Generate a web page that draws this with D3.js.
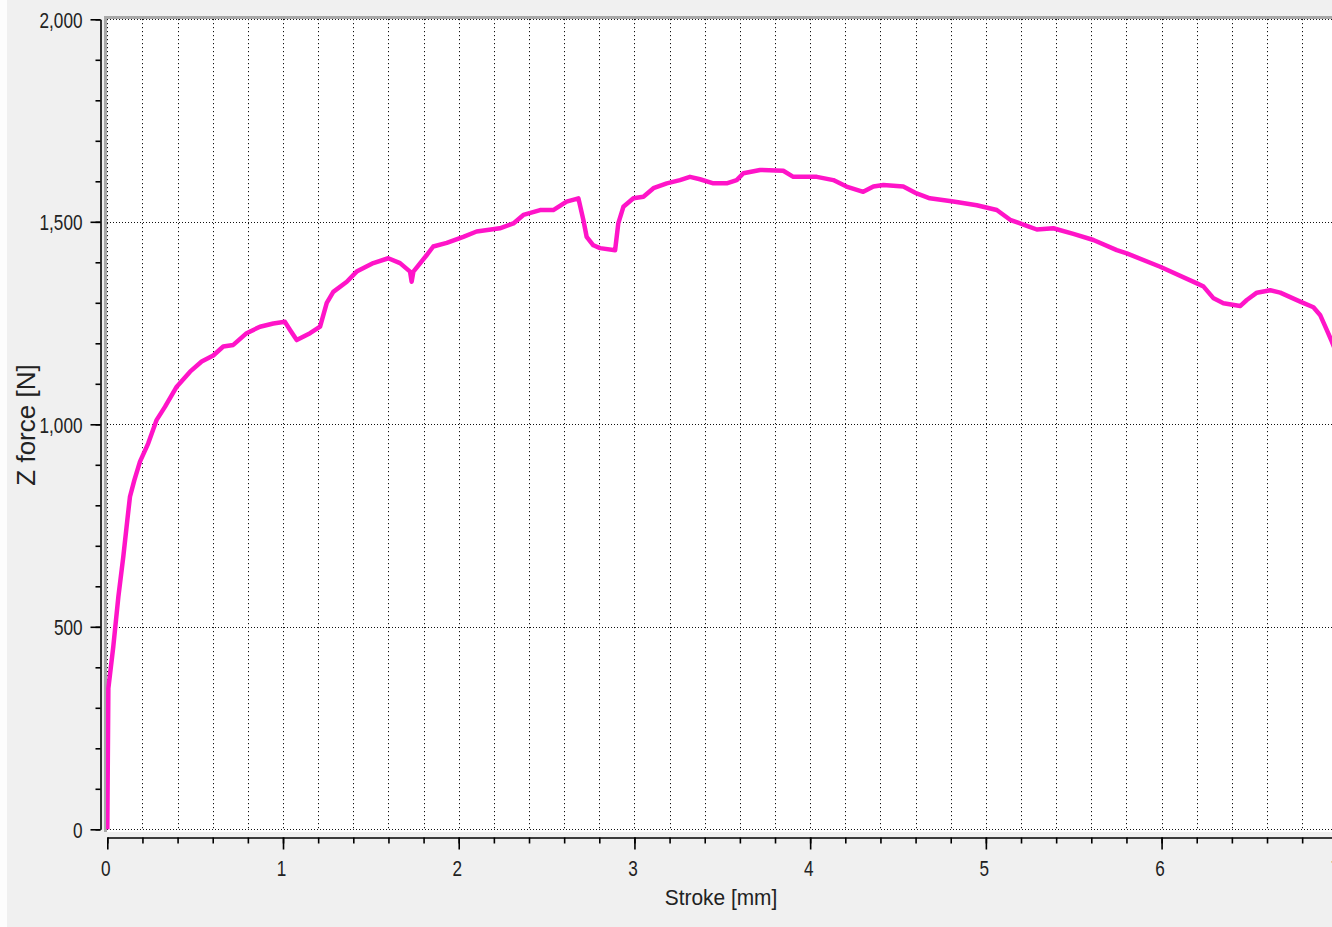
<!DOCTYPE html>
<html>
<head>
<meta charset="utf-8">
<script src="https://cdn.jsdelivr.net/npm/d3@7"></script>
<style>
  html, body { margin: 0; padding: 0; background: #f0f0f0; }
  svg { display: block; }
  text { font-family: "Liberation Sans", Arial, sans-serif; fill: #222; }
</style>
</head>
<body>
<svg id="chart" width="1332" height="927"></svg>
<script>
// Stroke (mm) vs. Z force (N) recorded during the press test
const strokeMm = [
  0, 0.003, 0.006, 0.034, 0.063, 0.091, 0.114, 0.129, 0.154, 0.186,
  0.233, 0.281, 0.328, 0.395, 0.471, 0.537, 0.603, 0.660, 0.717, 0.793,
  0.869, 0.945, 1.011, 1.040, 1.078, 1.154, 1.211, 1.249, 1.286, 1.363,
  1.419, 1.514, 1.599, 1.666, 1.723, 1.732, 1.742, 1.818, 1.855, 1.932,
  2.026, 2.102, 2.234, 2.311, 2.368, 2.463, 2.538, 2.614, 2.681, 2.709,
  2.728, 2.766, 2.804, 2.890, 2.908, 2.937, 2.994, 3.051, 3.108, 3.184,
  3.259, 3.316, 3.373, 3.449, 3.525, 3.582, 3.620, 3.715, 3.847, 3.904,
  4.038, 4.132, 4.207, 4.302, 4.360, 4.417, 4.530, 4.606, 4.681, 4.815,
  4.948, 5.062, 5.138, 5.233, 5.290, 5.384, 5.498, 5.612, 5.745, 5.802,
  5.992, 6.201, 6.239, 6.296, 6.352, 6.447, 6.485, 6.542, 6.618, 6.675,
  6.789, 6.864, 6.902, 6.940, 6.969, 6.993
];
const zForce = [
  0, 178, 348, 451, 574, 673, 764, 821, 862, 908,
  953, 1011, 1043, 1093, 1130, 1155, 1170, 1192, 1196, 1225,
  1241, 1249, 1253, 1233, 1208, 1225, 1241, 1300, 1327, 1352,
  1377, 1398, 1410, 1398, 1377, 1352, 1377, 1418, 1439, 1448,
  1463, 1476, 1484, 1496, 1517, 1529, 1529, 1550, 1558, 1505,
  1463, 1442, 1435, 1430, 1496, 1537, 1558, 1562, 1583, 1595,
  1603, 1611, 1605, 1595, 1595, 1603, 1620, 1628, 1626, 1611,
  1611, 1603, 1587, 1574, 1587, 1591, 1587, 1570, 1558, 1550,
  1541, 1529, 1505, 1490, 1481, 1484, 1470, 1455, 1430, 1422,
  1389, 1348, 1340, 1311, 1299, 1292, 1307, 1325, 1331, 1325,
  1303, 1289, 1270, 1233, 1204, 1178
];

// Axis ticks
const xMajorTicks = [0, 1, 2, 3, 4, 5, 6, 7];
const xMinorTicks = d3.range(0, 36).map(i => +(i * 0.2).toFixed(1));
const yMajorTicks = [0, 500, 1000, 1500, 2000];
const yMinorTicks = d3.range(0, 21).map(i => i * 100);

const xLabel = "Stroke [mm]";
const yLabel = "Z force [N]";

const svg = d3.select("#chart");
const W = 1332, H = 927;

const x = d3.scaleLinear().domain([0, 7]).range([107.3, 1337.3]);
const y = d3.scaleLinear().domain([0, 2000]).range([829.3, 19.3]);

// narrow the digits horizontally (condensed look of the tick labels)
function condense(sel, sx) {
  sel.each(function () {
    const t = d3.select(this);
    const tx = +t.attr("x") || 0, ty = +t.attr("y") || 0;
    t.attr("x", 0).attr("y", 0)
      .attr("transform", `translate(${tx},${ty}) scale(${sx},1)`);
  });
}

// thin light strip on the left edge of the window
svg.append("rect").attr("x", 0).attr("y", 0).attr("width", 7).attr("height", H).attr("fill", "#fdfdfd");

// plot background
svg.append("rect")
  .attr("x", 106).attr("y", 18)
  .attr("width", W - 106).attr("height", 832 - 18)
  .attr("fill", "#ffffff");

// frame of the plot (grey top and left edges)
svg.append("line").attr("x1", 104).attr("x2", W).attr("y1", 17.5).attr("y2", 17.5)
  .attr("stroke", "#a8a8a8").attr("stroke-width", 3);
svg.append("line").attr("x1", 105.5).attr("x2", 105.5).attr("y1", 16).attr("y2", 832)
  .attr("stroke", "#a8a8a8").attr("stroke-width", 3);

// grid
const grid = svg.append("g").attr("fill", "none").attr("stroke", "#111").attr("stroke-width", 1);
grid.selectAll("line.v").data(xMinorTicks).enter().append("line")
  .attr("class", "v")
  .attr("x1", d => Math.round(x(d)) + 0.5).attr("x2", d => Math.round(x(d)) + 0.5)
  .attr("y1", 19).attr("y2", 830)
  .attr("stroke-dasharray", "1.2,2.8");
grid.selectAll("line.h").data(yMajorTicks).enter().append("line")
  .attr("class", "h")
  .attr("x1", 107).attr("x2", W)
  .attr("y1", d => Math.round(y(d)) + 0.5).attr("y2", d => Math.round(y(d)) + 0.5)
  .attr("stroke-dasharray", "1,2");

// data line
svg.append("defs").append("clipPath").attr("id", "plotClip")
  .append("rect").attr("x", 106).attr("y", 17).attr("width", W - 106).attr("height", 816);

const line = d3.line().x((d, i) => x(strokeMm[i])).y(d => y(d));
svg.append("path")
  .datum(zForce)
  .attr("clip-path", "url(#plotClip)")
  .attr("fill", "none")
  .attr("stroke", "#ff14c8")
  .attr("stroke-width", 4.5)
  .attr("stroke-linejoin", "round")
  .attr("d", line);

// y axis
const yAxisMinor = d3.axisLeft(y).tickValues(yMinorTicks).tickSize(5).tickSizeOuter(0).tickFormat("");
const yAxisMajor = d3.axisLeft(y).tickValues(yMajorTicks).tickSize(10).tickSizeOuter(0)
  .tickPadding(8).tickFormat(d3.format(","));
const gy1 = svg.append("g").attr("transform", "translate(100.5,0)").call(yAxisMinor);
const gy2 = svg.append("g").attr("transform", "translate(100.5,0)").call(yAxisMajor);
[gy1, gy2].forEach(g => {
  g.select(".domain").attr("stroke", "#000").attr("stroke-width", 1.6);
  g.selectAll(".tick line").attr("stroke", "#000").attr("stroke-width", 1.6);
});
gy2.select(".domain").remove();
gy2.selectAll(".tick text").attr("font-size", 22).attr("font-family", "Liberation Sans, Arial, sans-serif")
  .attr("fill", "#222").attr("dy", "0.35em").call(condense, 0.78);

// x axis
const xAxisMinor = d3.axisBottom(x).tickValues(xMinorTicks).tickSize(6).tickSizeOuter(0).tickFormat("");
const xAxisMajor = d3.axisBottom(x).tickValues(xMajorTicks).tickSize(12).tickSizeOuter(0)
  .tickPadding(0).tickFormat(d3.format("d"));
const gx1 = svg.append("g").attr("transform", "translate(0,837.5)").call(xAxisMinor);
const gx2 = svg.append("g").attr("transform", "translate(0,837.5)").call(xAxisMajor);
[gx1, gx2].forEach(g => {
  g.select(".domain").attr("stroke", "#000").attr("stroke-width", 1.6);
  g.selectAll(".tick line").attr("stroke", "#000").attr("stroke-width", 1.6);
});
gx2.select(".domain").remove();
gx2.selectAll(".tick text").attr("font-size", 22).attr("font-family", "Liberation Sans, Arial, sans-serif")
  .attr("fill", "#222").attr("x", -2).attr("y", 30.5).attr("dy", "0.35em").call(condense, 0.78);

// axis titles
svg.append("text")
  .attr("transform", "translate(721,898) scale(0.95,1)")
  .attr("text-anchor", "middle").attr("dominant-baseline", "central")
  .attr("font-size", 22)
  .text(xLabel);
svg.append("text")
  .attr("transform", "translate(26,425) rotate(-90) scale(1.04,1)")
  .attr("text-anchor", "middle").attr("dominant-baseline", "central")
  .attr("font-size", 25)
  .text(yLabel);
</script>
</body>
</html>
